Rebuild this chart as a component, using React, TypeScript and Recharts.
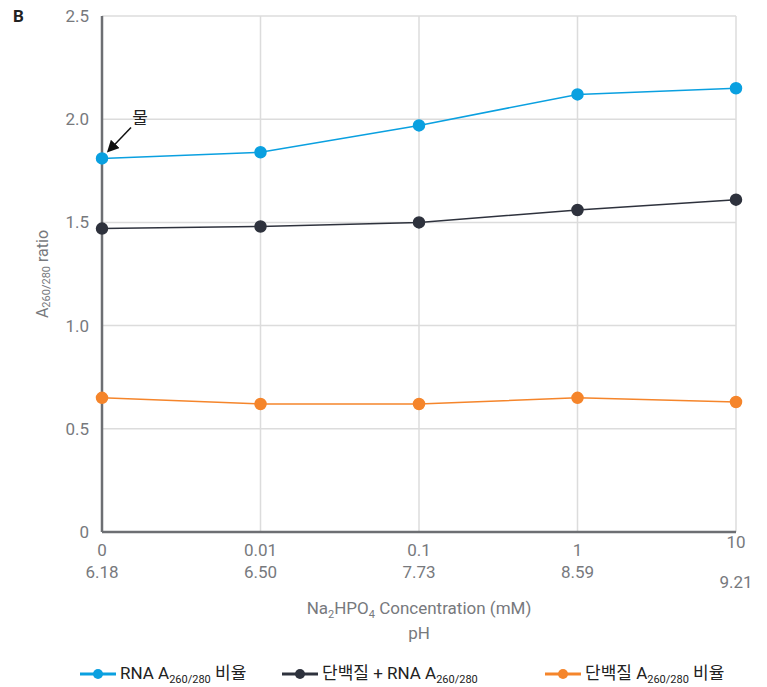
import React from "react";
import {
  LineChart,
  Line,
  XAxis,
  YAxis,
  CartesianGrid,
  LabelList,
} from "recharts";

const concentrations = ["0", "0.01", "0.1", "1", "10"];
const phValues = ["6.18", "6.50", "7.73", "8.59", "9.21"];
const rnaRatio = [1.81, 1.84, 1.97, 2.12, 2.15];
const mixRatio = [1.47, 1.48, 1.5, 1.56, 1.61];
const proteinRatio = [0.65, 0.62, 0.62, 0.65, 0.63];
const yTicks = [0, 0.5, 1, 1.5, 2, 2.5];

const BLUE = "#0aa0e0";
const DARK = "#2e323d";
const ORANGE = "#f5852b";
const GRAY = "#77797d";
const FONT = "Roboto, 'Noto Sans CJK KR', sans-serif";
const KR_FONT = "'Noto Sans CJK KR', 'Noto Sans', sans-serif";

const data = concentrations.map((c, i) => ({
  conc: c,
  ph: phValues[i],
  rna: rnaRatio[i],
  mix: mixRatio[i],
  protein: proteinRatio[i],
}));

function XTick(props: any) {
  const { x, y, payload, index } = props;
  const last = index === concentrations.length - 1;
  return (
    <g>
      <text x={x} y={y + (last ? 8 : 16)} textAnchor="middle" fill={GRAY} fontSize={17} fontFamily={FONT}>
        {payload.value}
      </text>
      <text x={x} y={y + (last ? 48 : 38)} textAnchor="middle" fill={GRAY} fontSize={17} fontFamily={FONT}>
        {phValues[index]}
      </text>
    </g>
  );
}

function XTitle(props: any) {
  const { viewBox } = props;
  const cx = viewBox.x + viewBox.width / 2;
  return (
    <g>
      <text x={cx} y={viewBox.y + 82} textAnchor="middle" fill={GRAY} fontSize={17} fontFamily={FONT}>
        Na
        <tspan fontSize={11} dy={4}>2</tspan>
        <tspan dy={-4}>HPO</tspan>
        <tspan fontSize={11} dy={4}>4</tspan>
        <tspan dy={-4}> Concentration (mM)</tspan>
      </text>
      <text x={cx} y={viewBox.y + 107} textAnchor="middle" fill={GRAY} fontSize={17} fontFamily={FONT}>
        pH
      </text>
    </g>
  );
}

function YTitle(props: any) {
  const { viewBox } = props;
  const cx = 42;
  const cy = viewBox.y + viewBox.height / 2;
  return (
    <text
      x={cx}
      y={cy}
      transform={`rotate(-90 ${cx} ${cy})`}
      textAnchor="middle"
      dominantBaseline="central"
      fill={GRAY}
      fontSize={16}
      fontFamily={FONT}
    >
      A
      <tspan fontSize={11} dy={4}>260/280</tspan>
      <tspan dy={-4}> ratio</tspan>
    </text>
  );
}

// arrow + "물" label on the first RNA point
function WaterNote(props: any) {
  const { x, y, index } = props;
  if (index !== 0) return null;
  return (
    <g>
      <defs>
        <marker id="arrowHead" markerWidth="8" markerHeight="8" refX="6" refY="4" orient="auto">
          <path d="M0,0 L8,4 L0,8 Z" fill="#111" />
        </marker>
      </defs>
      <line x1={x + 29} y1={y - 31} x2={x + 7} y2={y - 8} stroke="#111" strokeWidth={1.5} markerEnd="url(#arrowHead)" />
      <text
        x={x + 38}
        y={y - 34}
        textAnchor="middle"
        fill="#222"
        style={{ fontSize: 17, fontFamily: KR_FONT }}
      >
        물
      </text>
    </g>
  );
}

function LegendItem({ color, left, children }: { color: string; left: number; children: React.ReactNode }) {
  return (
    <div
      style={{
        position: "absolute",
        left,
        top: 663,
        height: 22,
        display: "flex",
        alignItems: "center",
        gap: 4,
        whiteSpace: "nowrap",
      }}
    >
      <svg width={36} height={12}>
        <line x1={0} y1={6} x2={36} y2={6} stroke={color} strokeWidth={3} />
        <circle cx={18} cy={6} r={5} fill={color} />
      </svg>
      <span style={{ lineHeight: "22px" }}>{children}</span>
    </div>
  );
}

const subStyle: React.CSSProperties = { fontSize: 11, position: "relative", top: 4 };

export default function App() {
  return (
    <div
      style={{
        position: "fixed",
        left: 0,
        top: 0,
        width: 767,
        height: 687,
        overflow: "hidden",
        background: "#fff",
        fontFamily: FONT,
      }}
    >
      <div style={{ position: "absolute", left: 13, top: 6, fontSize: 17, fontWeight: 700, color: "#222" }}>B</div>
      <LineChart
        width={767}
        height={687}
        data={data}
        margin={{ top: 16, right: 31, left: 0, bottom: 75 }}
      >
        <CartesianGrid stroke="#dcdcdc" strokeWidth={1.5} />
        <XAxis
          dataKey="conc"
          tick={<XTick />}
          tickLine={false}
          axisLine={{ stroke: "#6d6f73", strokeWidth: 2.5 }}
          height={80}
          interval={0}
          label={<XTitle />}
        />
        <YAxis
          domain={[0, 2.5]}
          ticks={yTicks}
          width={102}
          tickLine={false}
          tickMargin={7}
          axisLine={{ stroke: "#6d6f73", strokeWidth: 2.5 }}
          tick={{ fill: GRAY, fontSize: 17, fontFamily: FONT }}
          tickFormatter={(v: number) => (v === 0 ? "0" : v.toFixed(1))}
          label={<YTitle />}
        />
        <Line
          dataKey="protein"
          stroke={ORANGE}
          strokeWidth={1.5}
          dot={{ r: 5.5, fill: ORANGE, stroke: ORANGE }}
          isAnimationActive={false}
        />
        <Line
          dataKey="mix"
          stroke={DARK}
          strokeWidth={1.5}
          dot={{ r: 5.5, fill: DARK, stroke: DARK }}
          isAnimationActive={false}
        />
        <Line
          dataKey="rna"
          stroke={BLUE}
          strokeWidth={1.5}
          dot={{ r: 5.5, fill: BLUE, stroke: BLUE }}
          isAnimationActive={false}
        >
          <LabelList dataKey="rna" content={<WaterNote />} />
        </Line>
      </LineChart>
      <div style={{ fontSize: 17, color: "#222" }}>
        <LegendItem color={BLUE} left={80}>
          RNA A<span style={subStyle}>260/280</span> 비율
        </LegendItem>
        <LegendItem color={DARK} left={282}>
          단백질 + RNA A<span style={subStyle}>260/280</span>
        </LegendItem>
        <LegendItem color={ORANGE} left={545}>
          단백질 A<span style={subStyle}>260/280</span> 비율
        </LegendItem>
      </div>
    </div>
  );
}
